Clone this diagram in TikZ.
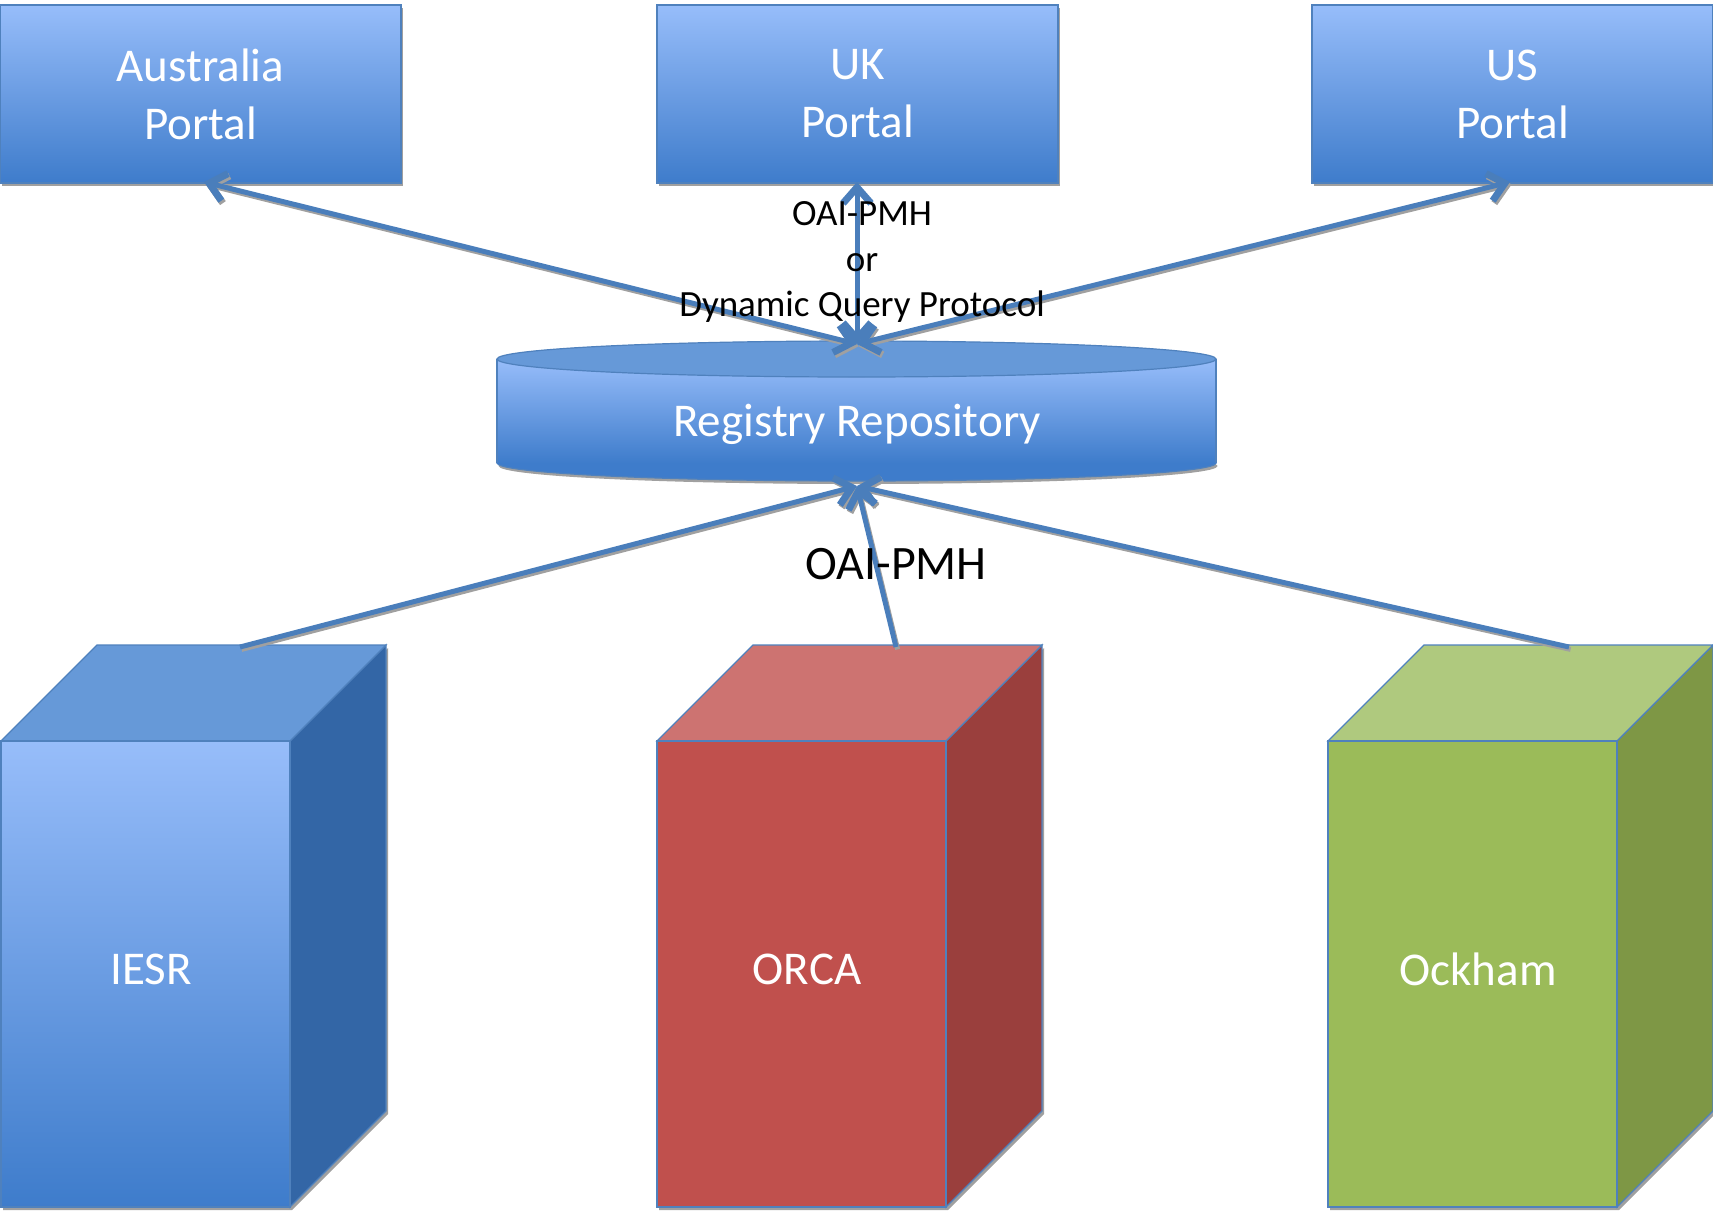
\documentclass[tikz,border=0pt]{standalone}
\usepackage{fontspec}
\setmainfont{Carlito}
\usetikzlibrary{arrows.meta,shadows}
\definecolor{edgeblue}{RGB}{79,129,189}
\definecolor{arrowblue}{RGB}{74,126,187}
\definecolor{lightblue}{RGB}{151,189,250}
\definecolor{darkblue}{RGB}{62,124,203}
\definecolor{cyltop}{RGB}{102,153,216}
\definecolor{iesrtopc}{RGB}{102,153,216}
\definecolor{iesrside}{RGB}{51,102,166}
\definecolor{orcafront}{RGB}{192,80,77}
\definecolor{orcatopc}{RGB}{205,115,113}
\definecolor{orcaside}{RGB}{154,63,61}
\definecolor{ockfront}{RGB}{155,187,89}
\definecolor{ocktopc}{RGB}{175,201,126}
\definecolor{ockside}{RGB}{126,151,69}
\definecolor{shadowgray}{RGB}{160,160,160}
\newcommand{\mycube}[6]{%
  \fill[shadowgray, transform canvas={xshift=1pt,yshift=-1.5pt}] (#1,741) -- (#1+289,741) -- (#1+385,645) -- (#1+385,1111) -- (#1+289,1207) -- (#1,1207) -- cycle;
  \filldraw[fill=#6, draw=edgeblue, line width=0.6pt] (#1+289,741) -- (#1+385,645) -- (#1+385,1111) -- (#1+289,1207) -- cycle;
  \filldraw[fill=#5, draw=edgeblue, line width=0.6pt] (#1,741) -- (#1+96,645) -- (#1+385,645) -- (#1+289,741) -- cycle;
  \node[cubefront, #4] (#2) at (#1+144.5,974) {};
  \node[maintext] (#2text) at (#1+150,969) {#3};
}
\begin{document}
\begin{tikzpicture}[x=0.5pt,y=-0.5pt,
  >={Straight Barb[length=8pt,width=14pt,line width=3.5pt 0 1,line cap=butt]},
  maintext/.style={text=white, font=\fontsize{23.5}{29}\selectfont},
  portal/.style={rectangle, draw=edgeblue, line width=0.6pt, top color=lightblue, bottom color=darkblue,
    minimum width=200.5pt, minimum height=89pt, inner sep=0pt, align=center, maintext,
    drop shadow={shadow xshift=1pt, shadow yshift=-1.5pt, fill=shadowgray, opacity=1}},
  cubefront/.style={rectangle, draw=edgeblue, line width=0.6pt, minimum width=144.5pt, minimum height=233pt,
    inner sep=0pt},
  conn/.style={draw=arrowblue, line width=2.5pt},
  connshadow/.style={draw=shadowgray, line width=2.5pt, transform canvas={xshift=0.8pt,yshift=-1.2pt}}
]
\useasboundingbox (0,0) rectangle (1713,1210);

% portals
\node[portal] (aus) at (200.5,94) {Australia\\Portal};
\node[portal] (uk) at (857.5,94) {UK\\Portal};
\node[portal] (us) at (1512.5,94) {US\\Portal};

% registry cylinder
\fill[shadowgray, transform canvas={xshift=0.8pt,yshift=-1.5pt}] (856.5,463) ellipse [x radius=179.75pt, y radius=9pt];
\filldraw[fill=darkblue, draw=edgeblue, line width=0.6pt] (856.5,463) ellipse [x radius=179.75pt, y radius=9pt];
\shade[top color=lightblue, bottom color=darkblue] (497,359) rectangle (1216,463);
\draw[edgeblue, line width=0.6pt] (497,359) -- (497,463) (1216,359) -- (1216,463);
\filldraw[fill=cyltop, draw=edgeblue, line width=0.6pt] (856.5,359) ellipse [x radius=179.75pt, y radius=9pt];
\node[maintext] (reg) at (857,424) {Registry Repository};
\coordinate (regtop) at (857,344);
\coordinate (regbot) at (857,486);

% cubes
\mycube{1}{iesr}{IESR}{top color=lightblue, bottom color=darkblue}{iesrtopc}{iesrside}
\mycube{657}{orca}{ORCA}{fill=orcafront}{orcatopc}{orcaside}
\mycube{1328}{ockham}{Ockham}{fill=ockfront}{ocktopc}{ockside}
\coordinate (iesrtop) at (240,647);
\coordinate (orcatop) at (896,647);
\coordinate (ockhamtop) at (1569,647);
\coordinate (ausbot) at (204,182);
\coordinate (ukbot) at (857,182);
\coordinate (usbot) at (1510,182);

% connector shadows
\draw[connshadow, <->] (regtop) -- (ausbot);
\draw[connshadow, <->] (regtop) -- (usbot);
\draw[connshadow, ->] (iesrtop) -- (regbot);
\draw[connshadow, ->] (orcatop) -- (regbot);
\draw[connshadow, ->] (ockhamtop) -- (regbot);
% connectors
\draw[conn, <->] (regtop) -- (ausbot);
\draw[conn, <->] (regtop) -- (usbot);
\draw[conn, <->] (regtop) -- (ukbot);
\draw[conn, ->] (iesrtop) -- (regbot);
\draw[conn, ->] (orcatop) -- (regbot);
\draw[conn, ->] (ockhamtop) -- (regbot);

% labels
\node[font=\fontsize{18.5}{22.75}\selectfont, align=center] (toplabel) at (862,262) {OAI-PMH\\or\\Dynamic Query Protocol};
\node[font=\fontsize{24}{28}\selectfont] (botlabel) at (896,564) {OAI-PMH};
\end{tikzpicture}
\end{document}
